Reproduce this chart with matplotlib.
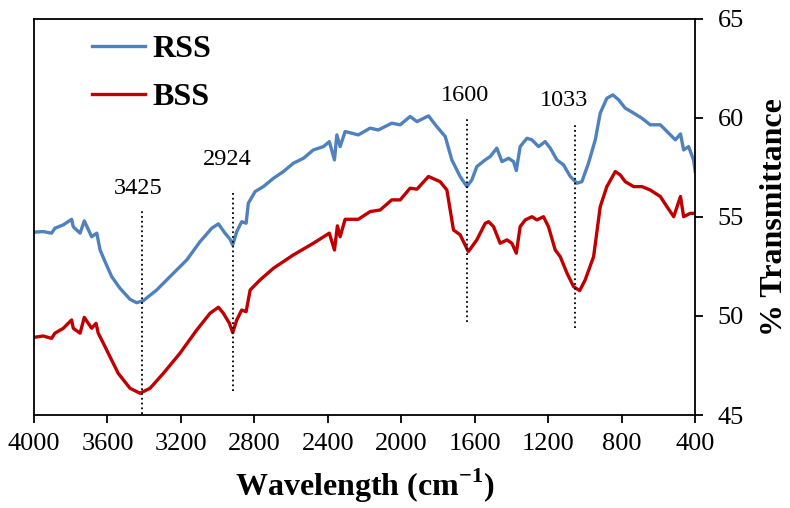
import matplotlib
matplotlib.use('Agg')
import matplotlib.pyplot as plt

# FTIR spectra
rss_wn = [4000, 3950, 3904, 3886, 3840, 3795, 3786, 3749, 3726, 3686, 3658, 3640, 3613,
          3577, 3532, 3477, 3441, 3405, 3332, 3259, 3168, 3096, 3032, 2996, 2960, 2932,
          2918, 2896, 2869, 2845, 2833, 2796, 2751, 2696, 2642, 2588, 2533, 2479, 2424,
          2392, 2364, 2351, 2333, 2306, 2234, 2170, 2125, 2052, 2006, 1952, 1915, 1852,
          1807, 1761, 1725, 1680, 1643, 1616, 1589, 1543, 1516, 1480, 1452, 1416, 1389,
          1374, 1353, 1316, 1289, 1253, 1217, 1189, 1153, 1117, 1080, 1044, 1017, 981,
          944, 917, 881, 848, 817, 781, 735, 690, 645, 590, 535, 508, 480, 463, 436, 409, 400]
rss_t = [54.23, 54.26, 54.18, 54.43, 54.6, 54.88, 54.5, 54.18, 54.8, 54.0, 54.18, 53.33, 52.74,
         51.99, 51.4, 50.84, 50.67, 50.77, 51.31, 51.99, 52.83, 53.75, 54.43, 54.65, 54.18, 53.87,
         53.59, 54.26, 54.76, 54.68, 55.69, 56.28, 56.53, 56.95, 57.29, 57.71, 57.96, 58.38, 58.55,
         58.8, 57.88, 59.14, 58.55, 59.31, 59.14, 59.48, 59.39, 59.73, 59.65, 60.07, 59.81, 60.1,
         59.56, 59.06, 57.88, 57.04, 56.53, 56.87, 57.54, 57.88, 58.05, 58.47, 57.79, 57.96, 57.79,
         57.34, 58.55, 58.97, 58.89, 58.55, 58.8, 58.47, 57.88, 57.63, 57.04, 56.7, 56.78, 57.71,
         58.89, 60.24, 60.99, 61.16, 60.91, 60.49, 60.24, 59.98, 59.65, 59.65, 59.14, 58.89, 59.19,
         58.38, 58.55, 57.88, 57.3]

bss_wn = [4000, 3950, 3904, 3886, 3840, 3795, 3786, 3749, 3726, 3686, 3662, 3650, 3622,
          3586, 3541, 3477, 3423, 3368, 3296, 3205, 3114, 3041, 2996, 2969, 2936, 2918,
          2896, 2869, 2845, 2823, 2769, 2696, 2588, 2479, 2392, 2364, 2348, 2333, 2306,
          2234, 2170, 2115, 2052, 2006, 1952, 1915, 1852, 1789, 1752, 1716, 1680, 1635,
          1589, 1543, 1525, 1498, 1462, 1425, 1398, 1374, 1353, 1325, 1289, 1262, 1226,
          1199, 1162, 1135, 1098, 1062, 1029, 999, 953, 917, 881, 835, 808, 781, 735,
          690, 645, 590, 554, 517, 480, 463, 427, 400]
bss_t = [48.92, 48.99, 48.87, 49.13, 49.38, 49.8, 49.38, 49.13, 49.93, 49.38, 49.63, 49.13, 48.62,
         47.94, 47.1, 46.35, 46.1, 46.35, 47.1, 48.12, 49.29, 50.14, 50.44, 50.14, 49.63, 49.16,
         49.8, 50.3, 50.22, 51.31, 51.82, 52.41, 53.08, 53.67, 54.18, 53.33, 54.55, 54.0, 54.88,
         54.88, 55.27, 55.35, 55.86, 55.86, 56.45, 56.4, 57.04, 56.78, 56.36, 54.34, 54.1, 53.25,
         53.84, 54.68, 54.76, 54.51, 53.67, 53.84, 53.67, 53.17, 54.51, 54.85, 55.01, 54.85, 55.01,
         54.51, 53.33, 53.0, 52.16, 51.48, 51.28, 51.82, 53.0, 55.52, 56.53, 57.29, 57.12, 56.78,
         56.53, 56.53, 56.36, 56.03, 55.52, 55.01, 56.03, 55.01, 55.18, 55.18]

# peak markers: label, line x, line bottom/top, label position
peak_labels = ['3425', '2924', '1600', '1033']
peak_x = [3412, 2916, 1642, 1053]
peak_lo = [45.05, 46.2, 49.7, 49.4]
peak_hi = [55.35, 56.35, 59.95, 59.65]
label_x = [3434, 2945, 1655, 1115]
label_y = [56.45, 57.9, 61.15, 60.9]

plt.rcParams['font.family'] = ['Liberation Serif', 'DejaVu Serif']
plt.rcParams['mathtext.fontset'] = 'custom'
plt.rcParams['mathtext.rm'] = 'Liberation Serif'
plt.rcParams['mathtext.bf'] = 'Liberation Serif:bold'

fig = plt.figure(figsize=(7.9, 5.08), dpi=100)
ax = fig.add_axes([0.043, 0.183, 0.837, 0.780])

ax.plot(rss_wn, rss_t, color='#4F81BD', lw=2.4, label='RSS')
ax.plot(bss_wn, bss_t, color='#C00000', lw=2.4, label='BSS')

for lab, px, lo, hi, lx, ly in zip(peak_labels, peak_x, peak_lo, peak_hi, label_x, label_y):
    ax.plot([px, px], [lo, hi], color='black', ls=':', lw=1.3)
    ax.text(lx, ly, lab, ha='center', va='center', fontsize=17.5)

ax.set_xlim(4000, 400)
ax.set_ylim(45, 65)
ax.set_xticks([4000, 3600, 3200, 2800, 2400, 2000, 1600, 1200, 800, 400])
ax.set_yticks([45, 50, 55, 60, 65])
ax.yaxis.tick_right()
ax.yaxis.set_label_position('right')
ax.tick_params(labelsize=19, width=1.3, length=6, direction='out')
ax.tick_params(axis='y', pad=10)
ax.tick_params(axis='x', pad=7)
for s in ax.spines.values():
    s.set_linewidth(1.3)

ax.set_xlabel(r'Wavelength (cm$^{\mathbf{-1}}$)', fontsize=23, fontweight='bold', labelpad=8)
ax.set_ylabel('% Transmittance', fontsize=23, fontweight='bold', labelpad=12)

lgd = ax.legend(loc='upper left', bbox_to_anchor=(0.088, 0.96), frameon=False,
                prop={'size': 23, 'weight': 'bold'}, handlelength=1.65,
                handletextpad=0.25, labelspacing=0.58, borderpad=0, borderaxespad=0)

fig.savefig('out.png', dpi=100)
plt.close()
